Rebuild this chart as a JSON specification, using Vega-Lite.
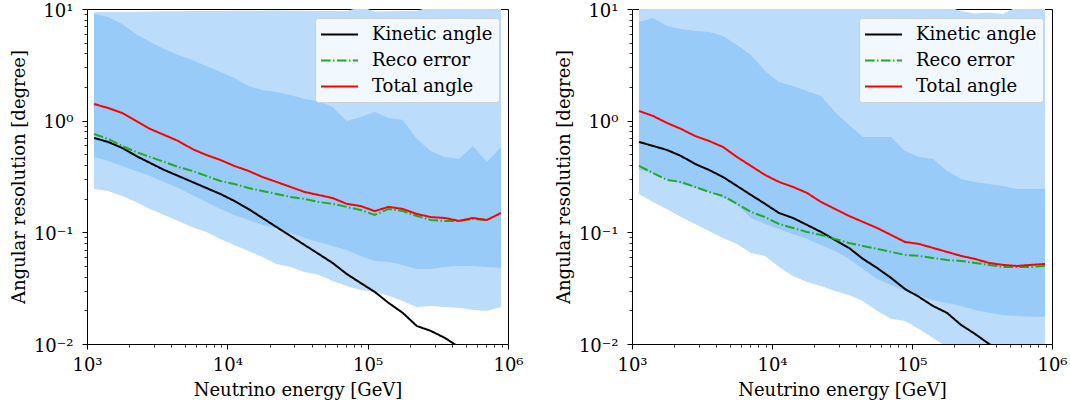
{
  "$schema": "https://vega.github.io/schema/vega-lite/v6.json",
  "padding": {"left": 9, "top": 1, "right": 5, "bottom": 5},
  "background": "white",
  "config": {
    "font": "DejaVu Serif",
    "view": {"stroke": "#000000", "strokeWidth": 1},
    "axis": {"labelFont": "DejaVu Serif", "labelFontSize": 18, "titleFont": "DejaVu Serif", "titleFontSize": 18, "titleFontWeight": "normal", "labelColor": "#000000", "titleColor": "#000000", "tickColor": "#000000", "domain": false, "grid": false},
    "legend": {"orient": "top-right", "offset": 9, "labelFont": "DejaVu Serif", "labelFontSize": 18, "labelColor": "#000000", "fillColor": "rgba(255,255,255,0.8)", "strokeColor": "rgba(204,204,204,0.8)", "cornerRadius": 3, "padding": 6, "symbolSize": 342, "symbolStrokeWidth": 2, "symbolOffset": 8, "labelOffset": 22, "rowPadding": 6}
  },
  "datasets": {
    "rows": [
      {"p":"L","E":1122,"kin":0.700,"reco":0.760,"tot":1.411,"lo95":0.2446,"hi95":9.34,"lo68":0.473,"hi68":9.0},
      {"p":"L","E":1413,"kin":0.645,"reco":0.686,"tot":1.299,"lo95":0.2348,"hi95":9.38,"lo68":0.4357,"hi68":8.5},
      {"p":"L","E":1778,"kin":0.570,"reco":0.594,"tot":1.172,"lo95":0.2117,"hi95":9.42,"lo68":0.393,"hi68":7.34},
      {"p":"L","E":2239,"kin":0.483,"reco":0.524,"tot":0.994,"lo95":0.187,"hi95":9.46,"lo68":0.355,"hi68":5.97},
      {"p":"L","E":2818,"kin":0.418,"reco":0.473,"tot":0.843,"lo95":0.162,"hi95":9.5,"lo68":0.320,"hi68":5.07},
      {"p":"L","E":3548,"kin":0.362,"reco":0.427,"tot":0.745,"lo95":0.1431,"hi95":9.53,"lo68":0.2826,"hi68":4.385},
      {"p":"L","E":4467,"kin":0.320,"reco":0.385,"tot":0.658,"lo95":0.1265,"hi95":9.55,"lo68":0.2497,"hi68":3.875},
      {"p":"L","E":5623,"kin":0.2826,"reco":0.355,"tot":0.558,"lo95":0.1117,"hi95":9.58,"lo68":0.216,"hi68":3.494},
      {"p":"L","E":7079,"kin":0.2497,"reco":0.320,"tot":0.493,"lo95":0.1008,"hi95":9.6,"lo68":0.187,"hi68":3.089},
      {"p":"L","E":8913,"kin":0.2207,"reco":0.2885,"tot":0.445,"lo95":0.0873,"hi95":9.62,"lo68":0.162,"hi68":2.729},
      {"p":"L","E":11220,"kin":0.191,"reco":0.271,"tot":0.393,"lo95":0.0771,"hi95":9.64,"lo68":0.1431,"hi68":2.412},
      {"p":"L","E":14125,"kin":0.162,"reco":0.2497,"tot":0.355,"lo95":0.0682,"hi95":9.66,"lo68":0.129,"hi68":2.045},
      {"p":"L","E":17783,"kin":0.1345,"reco":0.2348,"tot":0.313,"lo95":0.0602,"hi95":9.67,"lo68":0.1165,"hi68":1.883},
      {"p":"L","E":22387,"kin":0.1117,"reco":0.2207,"tot":0.283,"lo95":0.0521,"hi95":9.68,"lo68":0.1095,"hi68":1.807},
      {"p":"L","E":28184,"kin":0.0929,"reco":0.2074,"tot":0.255,"lo95":0.0490,"hi95":9.67,"lo68":0.0988,"hi68":1.699},
      {"p":"L","E":35481,"kin":0.0771,"reco":0.199,"tot":0.230,"lo95":0.0442,"hi95":9.65,"lo68":0.0891,"hi68":1.564},
      {"p":"L","E":44668,"kin":0.0641,"reco":0.187,"tot":0.216,"lo95":0.0416,"hi95":9.62,"lo68":0.0820,"hi68":1.501},
      {"p":"L","E":56234,"kin":0.0532,"reco":0.180,"tot":0.203,"lo95":0.0367,"hi95":9.58,"lo68":0.0755,"hi68":1.326},
      {"p":"L","E":70795,"kin":0.0424,"reco":0.169,"tot":0.180,"lo95":0.0331,"hi95":9.55,"lo68":0.0696,"hi68":0.994},
      {"p":"L","E":89125,"kin":0.0352,"reco":0.1586,"tot":0.172,"lo95":0.0305,"hi95":10.5,"lo68":0.0615,"hi68":1.079},
      {"p":"L","E":112202,"kin":0.0293,"reco":0.1431,"tot":0.155,"lo95":0.0293,"hi95":9.5,"lo68":0.0555,"hi68":1.196},
      {"p":"L","E":141254,"kin":0.0233,"reco":0.162,"tot":0.169,"lo95":0.0270,"hi95":9.55,"lo68":0.0543,"hi68":1.057},
      {"p":"L","E":177828,"kin":0.0190,"reco":0.155,"tot":0.162,"lo95":0.0243,"hi95":9.6,"lo68":0.0511,"hi68":1.015},
      {"p":"L","E":223872,"kin":0.0145,"reco":0.1402,"tot":0.146,"lo95":0.0215,"hi95":9.65,"lo68":0.0470,"hi68":0.686},
      {"p":"L","E":281838,"kin":0.0131,"reco":0.129,"tot":0.137,"lo95":0.0219,"hi95":10.5,"lo68":0.0470,"hi68":0.536},
      {"p":"L","E":354813,"kin":0.01134,"reco":0.1265,"tot":0.1345,"lo95":0.0215,"hi95":10.5,"lo68":0.0490,"hi68":0.473},
      {"p":"L","E":446684,"kin":0.0094,"reco":0.1265,"tot":0.1265,"lo95":0.0211,"hi95":10.5,"lo68":0.0500,"hi68":0.454},
      {"p":"L","E":562341,"reco":0.1318,"tot":0.1345,"lo95":0.0202,"hi95":10.5,"lo68":0.0500,"hi68":0.594},
      {"p":"L","E":707946,"reco":0.129,"tot":0.129,"lo95":0.0198,"hi95":10.5,"lo68":0.0490,"hi68":0.427},
      {"p":"L","E":891251,"tot":0.149,"lo95":0.0215,"hi95":10.5,"lo68":0.0480,"hi68":0.581},
      {"p":"R","E":1122,"kin":0.645,"reco":0.393,"tot":1.221,"lo95":0.2207,"hi95":10.5,"lo68":0.365,"hi68":7.65},
      {"p":"R","E":1413,"kin":0.594,"reco":0.340,"tot":1.102,"lo95":0.187,"hi95":10.5,"lo68":0.335,"hi68":8.31},
      {"p":"R","E":1778,"kin":0.5467,"reco":0.2945,"tot":0.954,"lo95":0.162,"hi95":10.5,"lo68":0.3007,"hi68":7.04},
      {"p":"R","E":2239,"kin":0.483,"reco":0.2826,"tot":0.843,"lo95":0.137,"hi95":10.5,"lo68":0.271,"hi68":6.62},
      {"p":"R","E":2818,"kin":0.4098,"reco":0.255,"tot":0.730,"lo95":0.1189,"hi95":10.5,"lo68":0.2497,"hi68":6.35},
      {"p":"R","E":3548,"kin":0.362,"reco":0.230,"tot":0.658,"lo95":0.1029,"hi95":10.5,"lo68":0.230,"hi68":6.23},
      {"p":"R","E":4467,"kin":0.313,"reco":0.2117,"tot":0.581,"lo95":0.0891,"hi95":10.5,"lo68":0.203,"hi68":5.73},
      {"p":"R","E":5623,"kin":0.2603,"reco":0.180,"tot":0.473,"lo95":0.0787,"hi95":10.5,"lo68":0.176,"hi68":4.76},
      {"p":"R","E":7079,"kin":0.216,"reco":0.1523,"tot":0.393,"lo95":0.0654,"hi95":10.5,"lo68":0.1345,"hi68":3.875},
      {"p":"R","E":8913,"kin":0.180,"reco":0.137,"tot":0.3265,"lo95":0.0615,"hi95":10.5,"lo68":0.1189,"hi68":2.786},
      {"p":"R","E":11220,"kin":0.149,"reco":0.1189,"tot":0.2826,"lo95":0.0490,"hi95":10.5,"lo68":0.1072,"hi68":2.221},
      {"p":"R","E":14125,"kin":0.1345,"reco":0.1095,"tot":0.255,"lo95":0.0407,"hi95":10.5,"lo68":0.0967,"hi68":2.045},
      {"p":"R","E":17783,"kin":0.1165,"reco":0.1008,"tot":0.2253,"lo95":0.0360,"hi95":10.5,"lo68":0.0873,"hi68":1.845},
      {"p":"R","E":22387,"kin":0.1008,"reco":0.0948,"tot":0.187,"lo95":0.0331,"hi95":10.5,"lo68":0.0771,"hi68":1.664},
      {"p":"R","E":28184,"kin":0.0855,"reco":0.0873,"tot":0.162,"lo95":0.0299,"hi95":10.5,"lo68":0.0682,"hi68":1.196},
      {"p":"R","E":35481,"kin":0.0725,"reco":0.0804,"tot":0.1402,"lo95":0.0275,"hi95":10.5,"lo68":0.0578,"hi68":0.915},
      {"p":"R","E":44668,"kin":0.0578,"reco":0.0755,"tot":0.1239,"lo95":0.0243,"hi95":10.5,"lo68":0.0470,"hi68":0.715},
      {"p":"R","E":56234,"kin":0.0480,"reco":0.0710,"tot":0.1095,"lo95":0.0198,"hi95":10.5,"lo68":0.0383,"hi68":0.715},
      {"p":"R","E":70795,"kin":0.0391,"reco":0.0668,"tot":0.0948,"lo95":0.0168,"hi95":10.5,"lo68":0.0338,"hi68":0.715},
      {"p":"R","E":89125,"kin":0.0311,"reco":0.0628,"tot":0.0820,"lo95":0.0161,"hi95":10.5,"lo68":0.0299,"hi68":0.536},
      {"p":"R","E":112202,"kin":0.0264,"reco":0.0615,"tot":0.0787,"lo95":0.01365,"hi95":10.5,"lo68":0.0270,"hi68":0.473},
      {"p":"R","E":141254,"kin":0.0219,"reco":0.0590,"tot":0.0725,"lo95":0.01134,"hi95":10.5,"lo68":0.0248,"hi68":0.454},
      {"p":"R","E":177828,"kin":0.0190,"reco":0.0566,"tot":0.0668,"lo95":0.0094,"hi95":10.5,"lo68":0.0233,"hi68":0.355},
      {"p":"R","E":223872,"kin":0.01483,"reco":0.0555,"tot":0.0615,"lo95":0.008,"hi95":9.6,"lo68":0.0219,"hi68":0.3007},
      {"p":"R","E":281838,"kin":0.01231,"reco":0.0532,"tot":0.0578,"lo95":0.008,"hi95":9.1,"lo68":0.0202,"hi68":0.2826},
      {"p":"R","E":354813,"kin":0.01002,"reco":0.0511,"tot":0.0532,"lo95":0.008,"hi95":9.3,"lo68":0.0190,"hi68":0.271},
      {"p":"R","E":446684,"kin":0.00832,"reco":0.0490,"tot":0.0511,"lo95":0.008,"hi95":9.0,"lo68":0.0182,"hi68":0.2603},
      {"p":"R","E":562341,"reco":0.0490,"tot":0.0500,"lo95":0.008,"hi95":10.5,"lo68":0.0178,"hi68":0.2446},
      {"p":"R","E":707946,"reco":0.0490,"tot":0.0511,"lo95":0.008,"hi95":10.5,"lo68":0.0175,"hi68":0.2446},
      {"p":"R","E":891251,"reco":0.0500,"tot":0.0521,"lo95":0.008,"hi95":10.5,"lo68":0.0175,"hi68":0.2446}
    ]
  },
  "spacing": 124,
  "bounds": "flush",
  "resolve": {"scale": {"color": "independent", "strokeDash": "independent"}, "legend": {"color": "independent", "strokeDash": "independent"}},
  "hconcat": [
    {
      "width": 421, "height": 335,
      "data": {"name": "rows"},
      "transform": [{"filter": "datum.p == 'L'"}],
      "layer": [
        {
          "mark": {"type": "area", "color": "#bbdcfb", "clip": true},
          "encoding": {
            "x": {"field": "E", "type": "quantitative", "title": "Neutrino energy [GeV]", "scale": {"type": "log", "domain": [1000, 1000000], "nice": false},
              "axis": {"values": [1000,2000,3000,4000,5000,6000,7000,8000,9000,10000,20000,30000,40000,50000,60000,70000,80000,90000,100000,200000,300000,400000,500000,600000,700000,800000,900000,1000000],
                "labelExpr": "datum.value==1000?'10³':datum.value==10000?'10⁴':datum.value==100000?'10⁵':datum.value==1000000?'10⁶':''",
                "tickSize": {"condition": {"test": "datum.value==1000||datum.value==10000||datum.value==100000||datum.value==1000000", "value": 5}, "value": 3},
                "tickWidth": {"condition": {"test": "datum.value==1000||datum.value==10000||datum.value==100000||datum.value==1000000", "value": 1}, "value": 0.8},
                "labelOverlap": false, "labelFlush": false, "labelBound": false, "labelPadding": 7, "titlePadding": 7}},
            "y": {"field": "lo95", "type": "quantitative", "title": "Angular resolution [degree]", "scale": {"type": "log", "domain": [0.01, 10], "nice": false},
              "axis": {"values": [0.01,0.02,0.03,0.04,0.05,0.06,0.07,0.08,0.09,0.1,0.2,0.3,0.4,0.5,0.6,0.7,0.8,0.9,1,2,3,4,5,6,7,8,9,10],
                "labelExpr": "datum.value==0.01?'10⁻²':datum.value==0.1?'10⁻¹':datum.value==1?'10⁰':datum.value==10?'10¹':''",
                "tickSize": {"condition": {"test": "datum.value==0.01||datum.value==0.1||datum.value==1||datum.value==10", "value": 5}, "value": 3},
                "tickWidth": {"condition": {"test": "datum.value==0.01||datum.value==0.1||datum.value==1||datum.value==10", "value": 1}, "value": 0.8},
                "labelOverlap": false, "labelFlush": false, "labelBound": false, "labelOffset": 2, "labelPadding": 9, "titlePadding": 5}},
            "y2": {"field": "hi95"}
          }
        },
        {
          "mark": {"type": "area", "color": "#99cbf8", "clip": true},
          "encoding": {
            "x": {"field": "E", "type": "quantitative", "title": "Neutrino energy [GeV]"},
            "y": {"field": "lo68", "type": "quantitative", "title": "Angular resolution [degree]"},
            "y2": {"field": "hi68"}
          }
        },
        {
          "transform": [{"fold": ["kin", "reco", "tot"], "as": ["s", "v"]}],
          "mark": {"type": "line", "strokeWidth": 2, "clip": true},
          "encoding": {
            "x": {"field": "E", "type": "quantitative", "title": "Neutrino energy [GeV]"},
            "y": {"field": "v", "type": "quantitative", "title": "Angular resolution [degree]"},
            "color": {"field": "s", "type": "nominal", "scale": {"domain": ["kin", "reco", "tot"], "range": ["#000000", "#22aa22", "#ff0000"]},
              "legend": {"title": null, "symbolType": "M-2,0H2", "labelExpr": "datum.label=='kin'?'Kinetic angle':datum.label=='reco'?'Reco error':'Total angle'"}},
            "strokeDash": {"field": "s", "type": "nominal", "scale": {"domain": ["kin", "reco", "tot"], "range": [[1, 0], [9.6, 2.4, 1.5, 2.4], [1, 0]]},
              "legend": {"title": null, "symbolType": "M-2,0H2", "labelExpr": "datum.label=='kin'?'Kinetic angle':datum.label=='reco'?'Reco error':'Total angle'"}}
          }
        }
      ]
    },
    {
      "width": 420, "height": 335,
      "data": {"name": "rows"},
      "transform": [{"filter": "datum.p == 'R'"}],
      "layer": [
        {
          "mark": {"type": "area", "color": "#bbdcfb", "clip": true},
          "encoding": {
            "x": {"field": "E", "type": "quantitative", "title": "Neutrino energy [GeV]", "scale": {"type": "log", "domain": [1000, 1000000], "nice": false},
              "axis": {"values": [1000,2000,3000,4000,5000,6000,7000,8000,9000,10000,20000,30000,40000,50000,60000,70000,80000,90000,100000,200000,300000,400000,500000,600000,700000,800000,900000,1000000],
                "labelExpr": "datum.value==1000?'10³':datum.value==10000?'10⁴':datum.value==100000?'10⁵':datum.value==1000000?'10⁶':''",
                "tickSize": {"condition": {"test": "datum.value==1000||datum.value==10000||datum.value==100000||datum.value==1000000", "value": 5}, "value": 3},
                "tickWidth": {"condition": {"test": "datum.value==1000||datum.value==10000||datum.value==100000||datum.value==1000000", "value": 1}, "value": 0.8},
                "labelOverlap": false, "labelFlush": false, "labelBound": false, "labelPadding": 7, "titlePadding": 7}},
            "y": {"field": "lo95", "type": "quantitative", "title": "Angular resolution [degree]", "scale": {"type": "log", "domain": [0.01, 10], "nice": false},
              "axis": {"values": [0.01,0.02,0.03,0.04,0.05,0.06,0.07,0.08,0.09,0.1,0.2,0.3,0.4,0.5,0.6,0.7,0.8,0.9,1,2,3,4,5,6,7,8,9,10],
                "labelExpr": "datum.value==0.01?'10⁻²':datum.value==0.1?'10⁻¹':datum.value==1?'10⁰':datum.value==10?'10¹':''",
                "tickSize": {"condition": {"test": "datum.value==0.01||datum.value==0.1||datum.value==1||datum.value==10", "value": 5}, "value": 3},
                "tickWidth": {"condition": {"test": "datum.value==0.01||datum.value==0.1||datum.value==1||datum.value==10", "value": 1}, "value": 0.8},
                "labelOverlap": false, "labelFlush": false, "labelBound": false, "labelOffset": 2, "labelPadding": 9, "titlePadding": 5}},
            "y2": {"field": "hi95"}
          }
        },
        {
          "mark": {"type": "area", "color": "#99cbf8", "clip": true},
          "encoding": {
            "x": {"field": "E", "type": "quantitative", "title": "Neutrino energy [GeV]"},
            "y": {"field": "lo68", "type": "quantitative", "title": "Angular resolution [degree]"},
            "y2": {"field": "hi68"}
          }
        },
        {
          "transform": [{"fold": ["kin", "reco", "tot"], "as": ["s", "v"]}],
          "mark": {"type": "line", "strokeWidth": 2, "clip": true},
          "encoding": {
            "x": {"field": "E", "type": "quantitative", "title": "Neutrino energy [GeV]"},
            "y": {"field": "v", "type": "quantitative", "title": "Angular resolution [degree]"},
            "color": {"field": "s", "type": "nominal", "scale": {"domain": ["kin", "reco", "tot"], "range": ["#000000", "#22aa22", "#ff0000"]},
              "legend": {"title": null, "symbolType": "M-2,0H2", "labelExpr": "datum.label=='kin'?'Kinetic angle':datum.label=='reco'?'Reco error':'Total angle'"}},
            "strokeDash": {"field": "s", "type": "nominal", "scale": {"domain": ["kin", "reco", "tot"], "range": [[1, 0], [9.6, 2.4, 1.5, 2.4], [1, 0]]},
              "legend": {"title": null, "symbolType": "M-2,0H2", "labelExpr": "datum.label=='kin'?'Kinetic angle':datum.label=='reco'?'Reco error':'Total angle'"}}
          }
        }
      ]
    }
  ]
}
